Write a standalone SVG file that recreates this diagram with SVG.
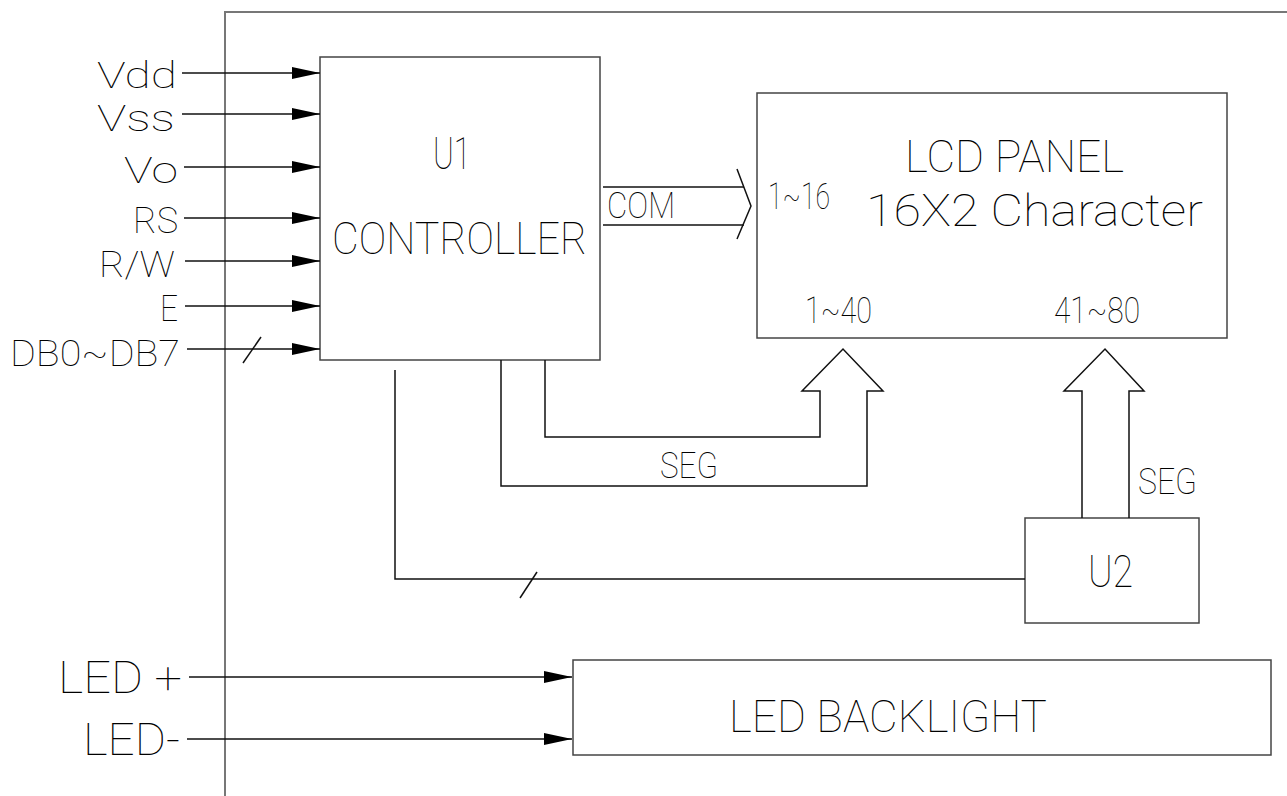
<svg xmlns="http://www.w3.org/2000/svg" width="1287" height="796" viewBox="0 0 1287 796">
<defs>
<style>
text{font-family:"Roboto","Liberation Sans",sans-serif;font-weight:100;fill:#000;}
.big{font-size:44px;}
.lbl{font-size:36px;}
.mid{font-size:36px;}
.box{fill:none;stroke:#444;stroke-width:1.5;}
.frame{fill:none;stroke:#777;stroke-width:2;}
.ln{fill:none;stroke:#111;stroke-width:1.5;}
</style>
<marker id="ah" viewBox="0 0 28 12" refX="28" refY="6" markerWidth="28" markerHeight="12" markerUnits="userSpaceOnUse" orient="auto">
<path d="M0,0 L28,6 L0,12 Z" fill="#000"/>
</marker>
</defs>
<rect width="1287" height="796" fill="#fff"/>
<g id="frame">
<polyline class="frame" points="225,796 225,12 1287,12"/>
</g>
<g id="inputs">
<text class="lbl" x="97" y="88" textLength="80" lengthAdjust="spacingAndGlyphs">Vdd</text>
<text class="lbl" x="97" y="131" textLength="78" lengthAdjust="spacingAndGlyphs">Vss</text>
<text class="lbl" x="124" y="183" textLength="54" lengthAdjust="spacingAndGlyphs">Vo</text>
<text class="lbl" x="133" y="233" textLength="45" lengthAdjust="spacingAndGlyphs">RS</text>
<text class="lbl" x="99" y="277" textLength="76" lengthAdjust="spacingAndGlyphs">R/W</text>
<text class="lbl" x="160" y="321" textLength="18" lengthAdjust="spacingAndGlyphs">E</text>
<text class="lbl" x="10" y="366" textLength="170" lengthAdjust="spacingAndGlyphs">DB0~DB7</text>
<text class="big" x="58" y="693" textLength="124" lengthAdjust="spacingAndGlyphs">LED +</text>
<text class="big" x="83" y="755" textLength="97" lengthAdjust="spacingAndGlyphs">LED-</text>
</g>
<g id="u1">
<rect class="box" x="320" y="57" width="280" height="303"/>
<text class="big" x="433" y="169" textLength="38" lengthAdjust="spacingAndGlyphs">U1</text>
<text class="big" x="332" y="254" textLength="255" lengthAdjust="spacingAndGlyphs">CONTROLLER</text>
</g>
<g id="lcd">
<rect class="box" x="757" y="93" width="470" height="245"/>
<text class="big" x="905" y="172" textLength="219" lengthAdjust="spacingAndGlyphs">LCD PANEL</text>
<text class="big" x="866" y="226" textLength="337" lengthAdjust="spacingAndGlyphs">16X2 Character</text>
<text class="mid" x="768" y="209" textLength="62" lengthAdjust="spacingAndGlyphs">1~16</text>
<text class="mid" x="805" y="323" textLength="67" lengthAdjust="spacingAndGlyphs">1~40</text>
<text class="mid" x="1054" y="323" textLength="86" lengthAdjust="spacingAndGlyphs">41~80</text>
</g>
<g id="u2">
<rect class="box" x="1025" y="518" width="174" height="105"/>
<text class="big" x="1088" y="587" textLength="45" lengthAdjust="spacingAndGlyphs">U2</text>
</g>
<g id="backlight">
<rect class="box" x="573" y="660" width="698" height="95"/>
<text class="big" x="729" y="732" textLength="318" lengthAdjust="spacingAndGlyphs">LED BACKLIGHT</text>
</g>
<g id="connectors">
<line class="ln" x1="182" y1="73" x2="320" y2="73" marker-end="url(#ah)"/>
<line class="ln" x1="182" y1="114" x2="320" y2="114" marker-end="url(#ah)"/>
<line class="ln" x1="184" y1="167" x2="320" y2="167" marker-end="url(#ah)"/>
<line class="ln" x1="184" y1="218" x2="320" y2="218" marker-end="url(#ah)"/>
<line class="ln" x1="185" y1="261" x2="320" y2="261" marker-end="url(#ah)"/>
<line class="ln" x1="185" y1="306" x2="320" y2="306" marker-end="url(#ah)"/>
<line class="ln" x1="187" y1="349" x2="320" y2="349" marker-end="url(#ah)"/>
<line class="ln" x1="243" y1="363" x2="261" y2="337"/>
<line class="ln" x1="189" y1="677" x2="572" y2="677" marker-end="url(#ah)"/>
<line class="ln" x1="187" y1="739" x2="572" y2="739" marker-end="url(#ah)"/>
<polyline class="ln" points="603,187 744,187"/>
<polyline class="ln" points="603,225 744,225"/>
<polyline class="ln" points="737,169 751,206 737,239"/>
<text class="mid" x="607" y="218" textLength="68" lengthAdjust="spacingAndGlyphs">COM</text>
<polyline class="ln" points="545,360 545,437 820,437 820,391 802,391 843,349 883,391 867,391 867,486 501,486 501,360"/>
<text class="mid" x="660" y="478" textLength="58" lengthAdjust="spacingAndGlyphs">SEG</text>
<polyline class="ln" points="1082,518 1082,391 1064,391 1105,349 1144,391 1129,391 1129,518"/>
<text class="mid" x="1138" y="494" textLength="59" lengthAdjust="spacingAndGlyphs">SEG</text>
<polyline class="ln" points="395,370 395,579 1025,579"/>
<line class="ln" x1="520" y1="598" x2="537" y2="572"/>
</g>
</svg>
